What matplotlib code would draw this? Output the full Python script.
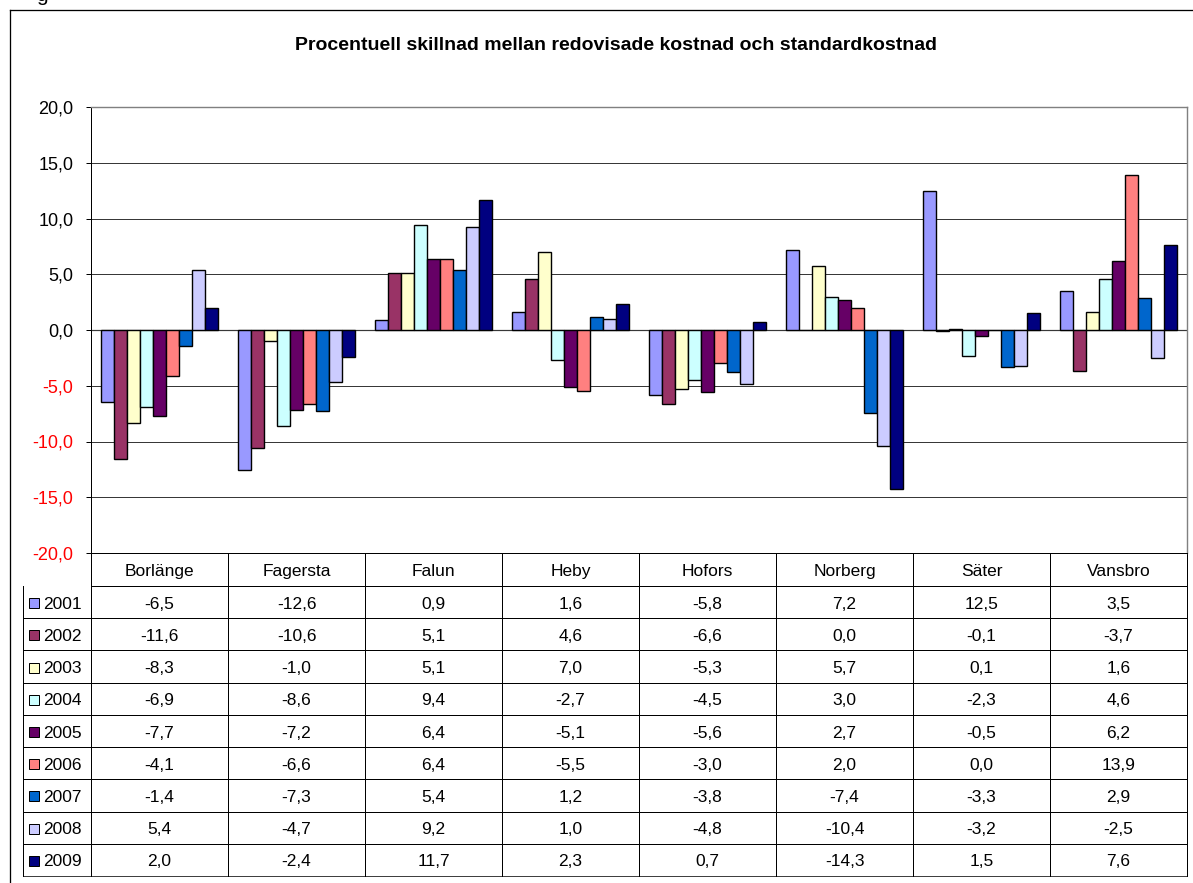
import matplotlib
matplotlib.use('Agg')
import matplotlib.pyplot as plt
import matplotlib.ticker as ticker
import matplotlib.patches as mpatches

plt.rcParams['font.family'] = ['Liberation Sans', 'DejaVu Sans']

# data
kommuner = ['Borlänge', 'Fagersta', 'Falun', 'Heby', 'Hofors', 'Norberg', 'Säter', 'Vansbro']
years = ['2001', '2002', '2003', '2004', '2005', '2006', '2007', '2008', '2009']
v2001 = [-6.5, -12.6, 0.9, 1.6, -5.8, 7.2, 12.5, 3.5]
v2002 = [-11.6, -10.6, 5.1, 4.6, -6.6, 0.0, -0.1, -3.7]
v2003 = [-8.3, -1.0, 5.1, 7.0, -5.3, 5.7, 0.1, 1.6]
v2004 = [-6.9, -8.6, 9.4, -2.7, -4.5, 3.0, -2.3, 4.6]
v2005 = [-7.7, -7.2, 6.4, -5.1, -5.6, 2.7, -0.5, 6.2]
v2006 = [-4.1, -6.6, 6.4, -5.5, -3.0, 2.0, 0.0, 13.9]
v2007 = [-1.4, -7.3, 5.4, 1.2, -3.8, -7.4, -3.3, 2.9]
v2008 = [5.4, -4.7, 9.2, 1.0, -4.8, -10.4, -3.2, -2.5]
v2009 = [2.0, -2.4, 11.7, 2.3, 0.7, -14.3, 1.5, 7.6]
series = [v2001, v2002, v2003, v2004, v2005, v2006, v2007, v2008, v2009]

colors = ['#9999FF', '#993366', '#FFFFCC', '#CCFFFF', '#660066',
          '#FF8080', '#0066CC', '#CCCCFF', '#000080']

title = 'Procentuell skillnad mellan redovisade kostnad och standardkostnad'

W, H = 1193, 883
px = 0.72  # one pixel in points
fs = 12.5


def fmt(v):
    return f'{v:.1f}'.replace('.', ',')


fig = plt.figure(figsize=(W / 100, H / 100), dpi=100)

# pixel overlay for frame, title and the data table
bg = fig.add_axes([0, 0, 1, 1])
bg.set_xlim(0, W)
bg.set_ylim(H, 0)
bg.axis('off')
bg.plot([10, W], [10, 10], color='black', lw=1.3 * px)
bg.plot([10, 10], [10, H], color='black', lw=1.3 * px)
bg.text(42, 1, 'g', fontsize=15, ha='center', va='baseline')
bg.text(616, 46, title, fontsize=14, fontweight='bold', ha='center', va='center')

# plot area
left, right, top, bottom = 91, 1187, 107, 553
ax = fig.add_axes([left / W, 1 - bottom / H, (right - left) / W, (bottom - top) / H])
n = len(series)
w = 1 / (n + 1.5)
for j, vals in enumerate(series):
    xs = [i + 0.5 + (j - (n - 1) / 2) * w for i in range(len(kommuner))]
    ax.bar(xs, vals, width=w, color=colors[j], edgecolor='black', linewidth=1.4 * px, zorder=3)

ax.set_xlim(0, len(kommuner))
ax.set_ylim(-20, 20)
ax.yaxis.set_major_locator(ticker.MultipleLocator(5))
ax.yaxis.set_major_formatter(ticker.FuncFormatter(lambda v, p: fmt(v)))
ax.set_xticks([])
ax.tick_params(axis='y', length=5 * px, width=px, pad=9, labelsize=fs + 0.5)
fig.canvas.draw()
for t, lab in zip(ax.get_yticks(), ax.get_yticklabels()):
    if t < 0:
        lab.set_color('red')
ax.yaxis.grid(True, color='#383838', linewidth=px, zorder=0)
ax.axhline(0, color='#383838', linewidth=1.2 * px, zorder=2)
ax.spines['left'].set_linewidth(px)
ax.spines['bottom'].set_linewidth(px)
for s in ('top', 'right'):
    ax.spines[s].set_color('#808080')
    ax.spines[s].set_linewidth(1.4 * px)

# data table under the chart
header_bottom = 586
row_h = (876 - header_bottom) / len(years)
key_left = 23
edges = [left + (right - left) * i / len(kommuner) for i in range(len(kommuner) + 1)]
lc = 'black'
lw = px
dy = 2  # nudge text down onto the row middle

bg.plot([left, right], [header_bottom, header_bottom], color=lc, lw=lw)
for k in range(1, len(years) + 1):
    y = header_bottom + k * row_h
    bg.plot([key_left, right], [y, y], color='#404040' if k == len(years) else lc, lw=lw)
bg.plot([key_left, key_left], [header_bottom, 876], color=lc, lw=lw)
bg.plot([left, left], [bottom, 876], color=lc, lw=lw)
for x in edges[1:]:
    bg.plot([x, x], [bottom, 876], color=lc, lw=lw)

for i, name in enumerate(kommuner):
    cx = (edges[i] + edges[i + 1]) / 2
    bg.text(cx, (bottom + header_bottom) / 2 + dy, name, fontsize=fs, ha='center', va='center')

for j, (yr, vals) in enumerate(zip(years, series)):
    cy = header_bottom + (j + 0.5) * row_h
    bg.add_patch(mpatches.Rectangle((29, cy - 4), 10, 10, facecolor=colors[j],
                                    edgecolor='black', linewidth=px))
    bg.text(43, cy + dy, yr, fontsize=fs, ha='left', va='center')
    for i, v in enumerate(vals):
        cx = (edges[i] + edges[i + 1]) / 2
        bg.text(cx, cy + dy, fmt(v), fontsize=fs, ha='center', va='center')

fig.savefig('out.png', dpi=100)
